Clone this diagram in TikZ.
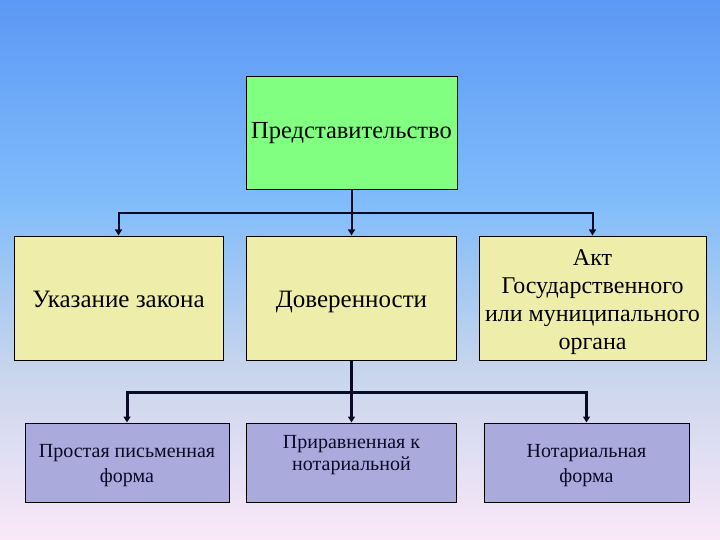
\documentclass[tikz,border=0pt]{standalone}
\usepackage{fontspec}
\setmainfont{Liberation Serif}
\usetikzlibrary{arrows.meta}
\definecolor{bgtop}{RGB}{92,152,245}
\definecolor{bglight}{RGB}{128,188,250}
\definecolor{bgmid}{RGB}{196,212,236}
\definecolor{bgbot}{RGB}{250,232,248}
\definecolor{headfill}{RGB}{128,255,128}
\definecolor{kindfill}{RGB}{238,238,170}
\definecolor{formfill}{RGB}{170,170,220}
\definecolor{linkcol}{RGB}{10,10,40}
\pgfdeclareverticalshading{bgshade}{100bp}{color(0bp)=(bgbot); color(25bp)=(bgbot);
  color(41.7bp)=(bgmid); color(56.5bp)=(bglight); color(75bp)=(bgtop); color(100bp)=(bgtop)}
\begin{document}
\begin{tikzpicture}[x=1pt, y=-1pt, >={Triangle[width=7pt,length=6pt]},
  box/.style={draw=black, line width=1pt, inner sep=0pt, align=center},
  headbox/.style={box, fill=headfill, minimum width=211pt, minimum height=113pt,
    font=\fontsize{24.5}{28}\selectfont},
  kindbox/.style={box, fill=kindfill, minimum height=124pt,
    font=\fontsize{25}{28}\selectfont},
  formbox/.style={box, fill=formfill, minimum width=205pt, minimum height=79pt},
  caption/.style={inner sep=0pt, align=center},
  formtext/.style={caption, text=linkcol, font=\fontsize{20}{25}\selectfont},
  link/.style={draw=linkcol, line width=2pt}]
  \fill[shading=bgshade] (0, 0) rectangle (720, 540);
  \useasboundingbox (0, 0) rectangle (720, 540);
  % head
  \node[headbox] (head) at (351.5, 133.5) {Представительство};
  % kinds
  \node[kindbox, minimum width=209pt, text height=20pt, text depth=2pt] (law)
    at (118.5, 298) {Указание закона};
  \node[kindbox, minimum width=210pt, text height=20pt, text depth=2pt] (proxy)
    at (351.5, 298) {Доверенности};
  \node[kindbox, minimum width=227pt] (act) at (592.5, 298) {};
  \node[caption, font=\fontsize{24}{28}\selectfont] (acttext)
    at ([yshift=-4pt]act.center) {Акт\\Государственного\\или муниципального\\органа};
  % forms
  \node[formbox, minimum width=204pt] (simple) at (127, 462.5) {};
  \node[formtext] (simpletext) at ([yshift=-3pt]simple.center) {Простая письменная\\форма};
  \node[formbox, minimum width=210pt] (equal) at (351.5, 462.5) {};
  \node[formtext, font=\fontsize{20}{22}\selectfont]
    (equaltext) at ([yshift=7pt]equal.center) {Приравненная к\\нотариальной};
  \node[formbox] (notary) at (586.5, 462.5) {};
  \node[formtext] (notarytext) at ([yshift=-3pt]notary.center) {Нотариальная\\форма};
  % links
  \coordinate (fork1) at (351.5, 213);
  \coordinate (fork2) at (351.5, 392);
  \draw[link] (head.south) -- (fork1);
  \draw[link, ->] (fork1) -| (law.north);
  \draw[link, ->] (fork1) -- (proxy.north);
  \draw[link, ->] (fork1) -| (act.north);
  \draw[link, line width=3.5pt, ->] (proxy.south) -- (equal.north);
  \draw[link, line width=3pt, ->] (fork2) -| (simple.north);
  \draw[link, line width=3pt, ->] (fork2) -| (notary.north);
\end{tikzpicture}
\end{document}
